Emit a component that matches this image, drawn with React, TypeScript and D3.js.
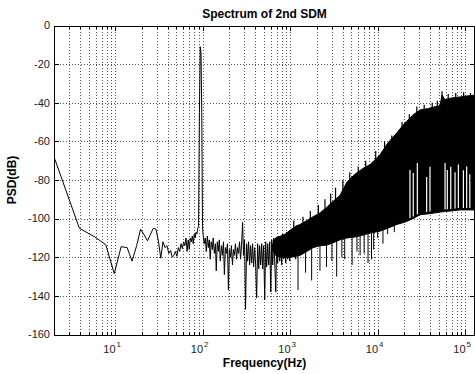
import React from 'react';
import * as d3 from 'd3';

// low-frequency trace (Hz, dB), read bin by bin up to ~1.2 kHz
const lineHz = [
  2, 3.9, 5.86, 7.81, 9.77, 11.7, 13.7, 15.6, 17.6, 19.5, 21.5, 23.4, 25.4, 27.3, 29.3, 31.3,
  33.2, 35.2, 37.1, 39.1, 41.0, 43.0, 44.9, 46.9, 48.8, 50.8, 52.7, 54.7, 56.6, 58.6, 60.5,
  62.5, 64.5, 66.4, 68.4, 70.3, 72.3, 74.2, 76.2, 78.1, 80.1, 82.0, 84.0, 85.9, 87.9, 89.8,
  91.8, 93.8, 95.7, 97.7, 99.6, 101, 104, 107, 110, 113, 116, 119, 122, 125, 129, 132, 136,
  140, 143, 147, 151, 155, 159, 164, 168, 173, 177, 182, 187, 192, 197, 202, 208, 213, 219,
  225, 231, 237, 244, 250, 257, 264, 271, 278, 286, 293, 301, 309, 318, 326, 335, 344, 353,
  363, 372, 382, 393, 403, 414, 425, 437, 448, 460, 473, 485, 498, 512, 525, 539, 554, 569,
  584, 600, 616, 632, 649, 667, 685, 703, 720, 740, 760, 780, 800, 822, 844, 866, 889, 913,
  937, 962, 988, 1014, 1041, 1069, 1097, 1126, 1156, 1187, 1219, 1250,
];
const lineDb = [
  -68, -105, -109.5, -113.5, -128.5, -114.5, -115, -122, -114, -105.5, -108.5, -111.5, -108, -105, -105.5, -112,
  -120.5, -112, -115, -114, -118, -116.5, -120, -119, -117, -119.5, -115, -117, -113, -115.5, -112,
  -114, -110, -117, -111, -116, -110, -112, -109, -113, -108, -110, -107, -108, -105, -104,
  -45, -11, -14, -45, -104, -108, -113, -110, -117, -109, -115, -111, -121, -112, -116, -110, -118,
  -113, -127, -112, -117, -111, -122, -114, -119, -112, -129, -115, -118, -113, -137, -116, -120, -114,
  -124, -116, -119, -113, -121, -115, -118, -112, -121, -114, -102, -119, -111, -147, -113, -122, -112, -124,
  -114, -123, -113, -125, -115, -124, -141, -113, -126, -114, -124, -113, -126, -114, -142, -112, -125,
  -113, -124, -112, -138, -111, -124, -110, -123, -138, -110, -123, -109, -122, -110, -124, -108, -121, -109,
  -123, -107, -121, -108, -122, -106, -120, -107, -119, -105, -121, -106,
];

// dense part: upper and lower edge of the black band (Hz, dB)
const bandHz = [
  620, 680, 780, 880, 1000, 1150, 1300, 1550, 1830, 2200, 2640, 3100,
  3700, 4460, 5500, 6800, 8200, 10600, 13000, 16600, 20500, 25300, 30500, 38000, 46000, 51500,
  54400, 58800, 70000, 87000, 105000, 129500,
];
const bandTopDb = [
  -114, -110, -109, -108, -106, -104, -103, -101, -99, -97, -94, -91,
  -88, -81, -77, -74, -72, -67, -61, -55.5, -50.5, -46.3, -43.7, -43, -42, -41.5,
  -36, -38.5, -37.5, -37, -36.5, -36,
];
const bandBottomDb = [
  -116, -119, -120, -120, -120, -119.5, -119, -117, -115, -114, -113.7, -112.5,
  -111, -110, -109.5, -108.5, -107.5, -106.5, -105, -103, -101.8, -100, -98, -97.5, -97, -96.6,
  -96.5, -96.3, -96, -95.5, -95.5, -95.5,
];

// short peaks above the band (Hz, highest dB)
const peakHz = [
  1100, 1400, 1700, 2100, 2500, 2900, 3300, 4000, 4800, 6000, 7300, 9500, 12000, 14500, 19000,
  23000, 28000, 34000, 42000, 48000, 54400, 64000, 78000, 96000, 115000,
];
const peakDb = [
  -101, -99, -96, -93, -90, -87, -84, -80, -76, -73, -70, -65, -60, -57, -50,
  -46, -42, -41, -40, -39, -34, -35.5, -35, -34.5, -35,
];

// downward spikes below the band (Hz, lowest dB)
const dipHz = [
  1230, 1500, 1760, 2190, 2600, 3000, 3400, 3900, 4200, 5100, 5800, 6300, 7000, 7760, 8500, 9000,
  10000, 11500, 13000, 15500,
];
const dipDb = [
  -137, -128, -132, -127, -125, -122, -130, -120, -121, -124, -117, -119, -118, -123, -121, -116,
  -110, -113, -108, -107,
];

// white streaks in the lower part of the band (Hz, dB where the streak ends)
const gapHz = [23400, 25500, 28400, 36300, 39600, 58900, 62500, 68400, 76600, 83600, 95400, 104000, 113000];
const gapTopDb = [-74.8, -76.4, -71.2, -78.4, -73.2, -71.2, -74.8, -73.2, -76, -72, -75, -73, -77];

const yTicks = [0, -20, -40, -60, -80, -100, -120, -140, -160];
const xDecades = [1, 2, 3, 4, 5];

const W = 475;
const H = 374;
const FONT = '"Liberation Sans", Arial, sans-serif';

export default function App() {
  const x = d3.scaleLog().domain([2, 129500]).range([54, 475]);
  const y = d3.scaleLinear().domain([-160, 0]).range([334.5, 25.5]);
  const [x0, x1] = x.range();
  const [yb, yt] = y.range();

  const minor: number[] = [];
  for (let k = 0; k <= 5; k++) {
    for (let m = 1; m <= 9; m++) {
      const v = m * Math.pow(10, k);
      if (v >= 2 && v <= 129500) minor.push(v);
    }
  }

  const line = d3.line<number>().x((_, i) => x(lineHz[i])).y(d => y(d));
  const band = d3
    .area<number>()
    .x((_, i) => x(bandHz[i]))
    .y0((_, i) => y(bandBottomDb[i]))
    .y1(d => y(d));
  const bottomAt = d3.scaleLog().domain(bandHz).range(bandBottomDb);
  const topAt = d3.scaleLog().domain(bandHz).range(bandTopDb);

  return (
    <svg
      width={W}
      height={H}
      style={{ position: 'fixed', left: 0, top: 0, background: '#fff' }}
      fontFamily={FONT}
    >
      <defs>
        <clipPath id="plot">
          <rect x={x0} y={yt} width={x1 - x0} height={yb - yt} />
        </clipPath>
      </defs>
      <rect width={W} height={H} fill="#fff" />

      {/* grid */}
      <g stroke="#555" strokeWidth={1} strokeDasharray="1,2" shapeRendering="crispEdges">
        {minor.map(v => (
          <line key={`gx${v}`} x1={Math.round(x(v)) + 0.5} x2={Math.round(x(v)) + 0.5} y1={yt} y2={yb} />
        ))}
        {yTicks.slice(1, -1).map(v => (
          <line key={`gy${v}`} x1={x0} x2={x1} y1={Math.round(y(v)) + 0.5} y2={Math.round(y(v)) + 0.5} />
        ))}
      </g>

      <g clipPath="url(#plot)">
        <path d={band(bandTopDb) ?? ''} fill="#000" stroke="#000" strokeWidth={1} />
        {peakHz.map((f, i) => (
          <line
            key={`pk${i}`}
            x1={x(f)}
            x2={x(f)}
            y1={y(topAt(f)) + 2}
            y2={y(peakDb[i])}
            stroke="#000"
            strokeWidth={1.2}
          />
        ))}
        {gapHz.map((f, i) => (
          <line
            key={`gap${i}`}
            x1={x(f)}
            x2={x(f)}
            y1={y(bottomAt(f)) - 2}
            y2={y(gapTopDb[i])}
            stroke="#fff"
            strokeWidth={1.2}
          />
        ))}
        {dipHz.map((f, i) => (
          <line
            key={`dip${i}`}
            x1={x(f)}
            x2={x(f)}
            y1={y(bottomAt(f))}
            y2={y(dipDb[i])}
            stroke="#000"
            strokeWidth={1}
          />
        ))}
        <path d={line(lineDb) ?? ''} fill="none" stroke="#000" strokeWidth={1} strokeLinejoin="miter" />
      </g>

      {/* axes box and ticks */}
      <g stroke="#000" strokeWidth={1} shapeRendering="crispEdges">
        <line x1={x0 + 0.5} x2={x0 + 0.5} y1={yt} y2={yb} />
        <line x1={x0} x2={x1} y1={Math.round(yt) + 0.5} y2={Math.round(yt) + 0.5} />
        <line x1={x0} x2={x1} y1={Math.round(yb) + 0.5} y2={Math.round(yb) + 0.5} />
        <line x1={x1 - 0.5} x2={x1 - 0.5} y1={yt} y2={yb} />
        {minor.map(v => {
          const major = xDecades.includes(Math.log10(v));
          const len = major ? 5 : 3;
          const px = Math.round(x(v)) + 0.5;
          return (
            <g key={`tx${v}`}>
              <line x1={px} x2={px} y1={yb} y2={yb - len} />
              <line x1={px} x2={px} y1={yt} y2={yt + len} />
            </g>
          );
        })}
        {yTicks.map(v => (
          <g key={`ty${v}`}>
            <line x1={x0} x2={x0 + 5} y1={Math.round(y(v)) + 0.5} y2={Math.round(y(v)) + 0.5} />
            <line x1={x1} x2={x1 - 5} y1={Math.round(y(v)) + 0.5} y2={Math.round(y(v)) + 0.5} />
          </g>
        ))}
      </g>

      {/* tick labels */}
      <g fontSize={11} fill="#222">
        {yTicks.map(v => (
          <text key={`ly${v}`} x={x0 - 4} y={y(v)} dy="0.35em" textAnchor="end">
            {v}
          </text>
        ))}
        {xDecades.map(k => (
          <text key={`lx${k}`} x={x(Math.pow(10, k)) - 3} y={353} textAnchor="middle">
            10
            <tspan fontSize={8} dx={1} dy={-6}>
              {k}
            </tspan>
          </text>
        ))}
      </g>

      {/* titles */}
      <text x={(x0 + x1) / 2} y={18} textAnchor="middle" fontSize={12} fontWeight="bold">
        Spectrum of 2nd SDM
      </text>
      <text x={(x0 + x1) / 2} y={367} textAnchor="middle" fontSize={12} fontWeight="bold">
        Frequency(Hz)
      </text>
      <text
        transform={`translate(16, ${(yt + yb) / 2}) rotate(-90)`}
        textAnchor="middle"
        fontSize={12}
        fontWeight="bold"
      >
        PSD(dB)
      </text>
    </svg>
  );
}
